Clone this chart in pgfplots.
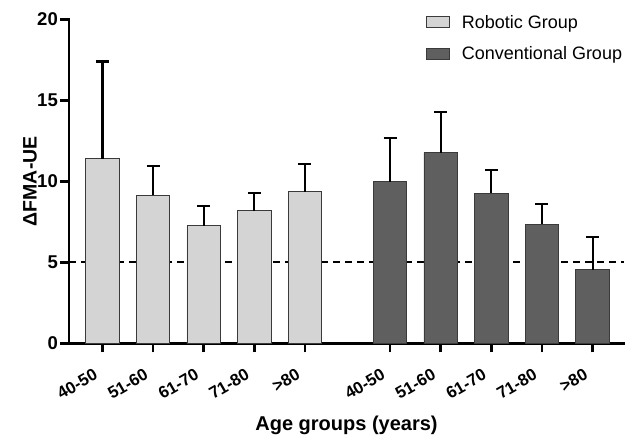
\documentclass[border=0pt]{standalone}
\usepackage{pgfplots}
\pgfplotsset{compat=1.18}
\usepackage{fontspec}
\setmainfont{Liberation Sans}
\definecolor{lightbar}{HTML}{D4D4D4}
\definecolor{darkbar}{HTML}{5F5F5F}
\definecolor{edgec}{HTML}{3A3A3A}
\begin{document}
\begin{tikzpicture}
\useasboundingbox (0,0) rectangle (625pt,437pt);
\begin{axis}[
  at={(69pt,93.7pt)}, anchor=south west,
  scale only axis, width=555pt, height=324pt,
  xmin=-0.66, xmax=10.3, ymin=0, ymax=20,
  axis lines*=left,
  axis line style={line width=2.8pt, line cap=rect},
  every tick/.style={line width=2.6pt, black},
  tick align=outside, major tick length=9pt,
  ytick={0,5,10,15,20},
  xtick={0,1,2,3,4,5.68,6.68,7.68,8.68,9.68},
  xticklabels={40-50,51-60,61-70,71-80,>80,40-50,51-60,61-70,71-80,>80},
  xticklabel style={rotate=30, anchor=north east, font=\fontsize{16.8}{20}\selectfont\bfseries, inner sep=1pt, xshift=-8pt, yshift=4.5pt},
  xticklabel shift=14pt,
  yticklabel style={font=\fontsize{18.5}{21}\selectfont\bfseries, inner sep=2pt},
  /pgf/number format/assume math mode=true,
  ylabel={ΔFMA-UE},
  ylabel style={at={(axis description cs:-0.0703,0.5)}, anchor=center, font=\fontsize{19.5}{22}\selectfont\bfseries},
  xlabel={Age groups (years)},
  xlabel style={at={(axis description cs:0.5,0)}, anchor=base, yshift=-86.7pt, font=\fontsize{20}{24}\selectfont\bfseries},
  legend style={at={(axis description cs:0.643,1.02)}, anchor=north west, draw=none, fill=none,
    font=\fontsize{18}{21}\selectfont, row sep=13pt, column sep=10pt, inner sep=0pt},
  legend cell align=left,
  legend image code/.code={\draw[#1, line width=0.9pt] (0pt,-5.5pt) rectangle (23pt,5.5pt);},
  clip=false,
]
\addplot[black, line width=2pt, dash pattern=on 7pt off 5pt, forget plot] coordinates {(-0.66,5) (10.3,5)};
\addplot[ybar, bar width=0.66, bar shift=0pt, fill=lightbar, draw=edgec, line width=0.9pt,
  error bars/.cd, y dir=plus, y explicit,
  error bar style={line width=2.2pt, black},
  error mark options={rotate=90, mark size=6.5pt, line width=2.2pt, black}]
  table[x=x, y=y, y error=e] {
x y e
0 11.40 6.00
1 9.15 1.80
2 7.27 1.20
3 8.17 1.13
4 9.37 1.72
};
\addlegendentry{Robotic Group}
\addplot[ybar, bar width=0.66, bar shift=0pt, fill=darkbar, draw=edgec, line width=0.9pt,
  error bars/.cd, y dir=plus, y explicit,
  error bar style={line width=2.2pt, black},
  error mark options={rotate=90, mark size=6.5pt, line width=2.2pt, black}]
  table[x=x, y=y, y error=e] {
x y e
5.68 9.96 2.71
6.68 11.77 2.53
7.68 9.27 1.42
8.68 7.35 1.25
9.68 4.55 2.00
};
\addlegendentry{Conventional Group}
\end{axis}
\end{tikzpicture}
\end{document}
